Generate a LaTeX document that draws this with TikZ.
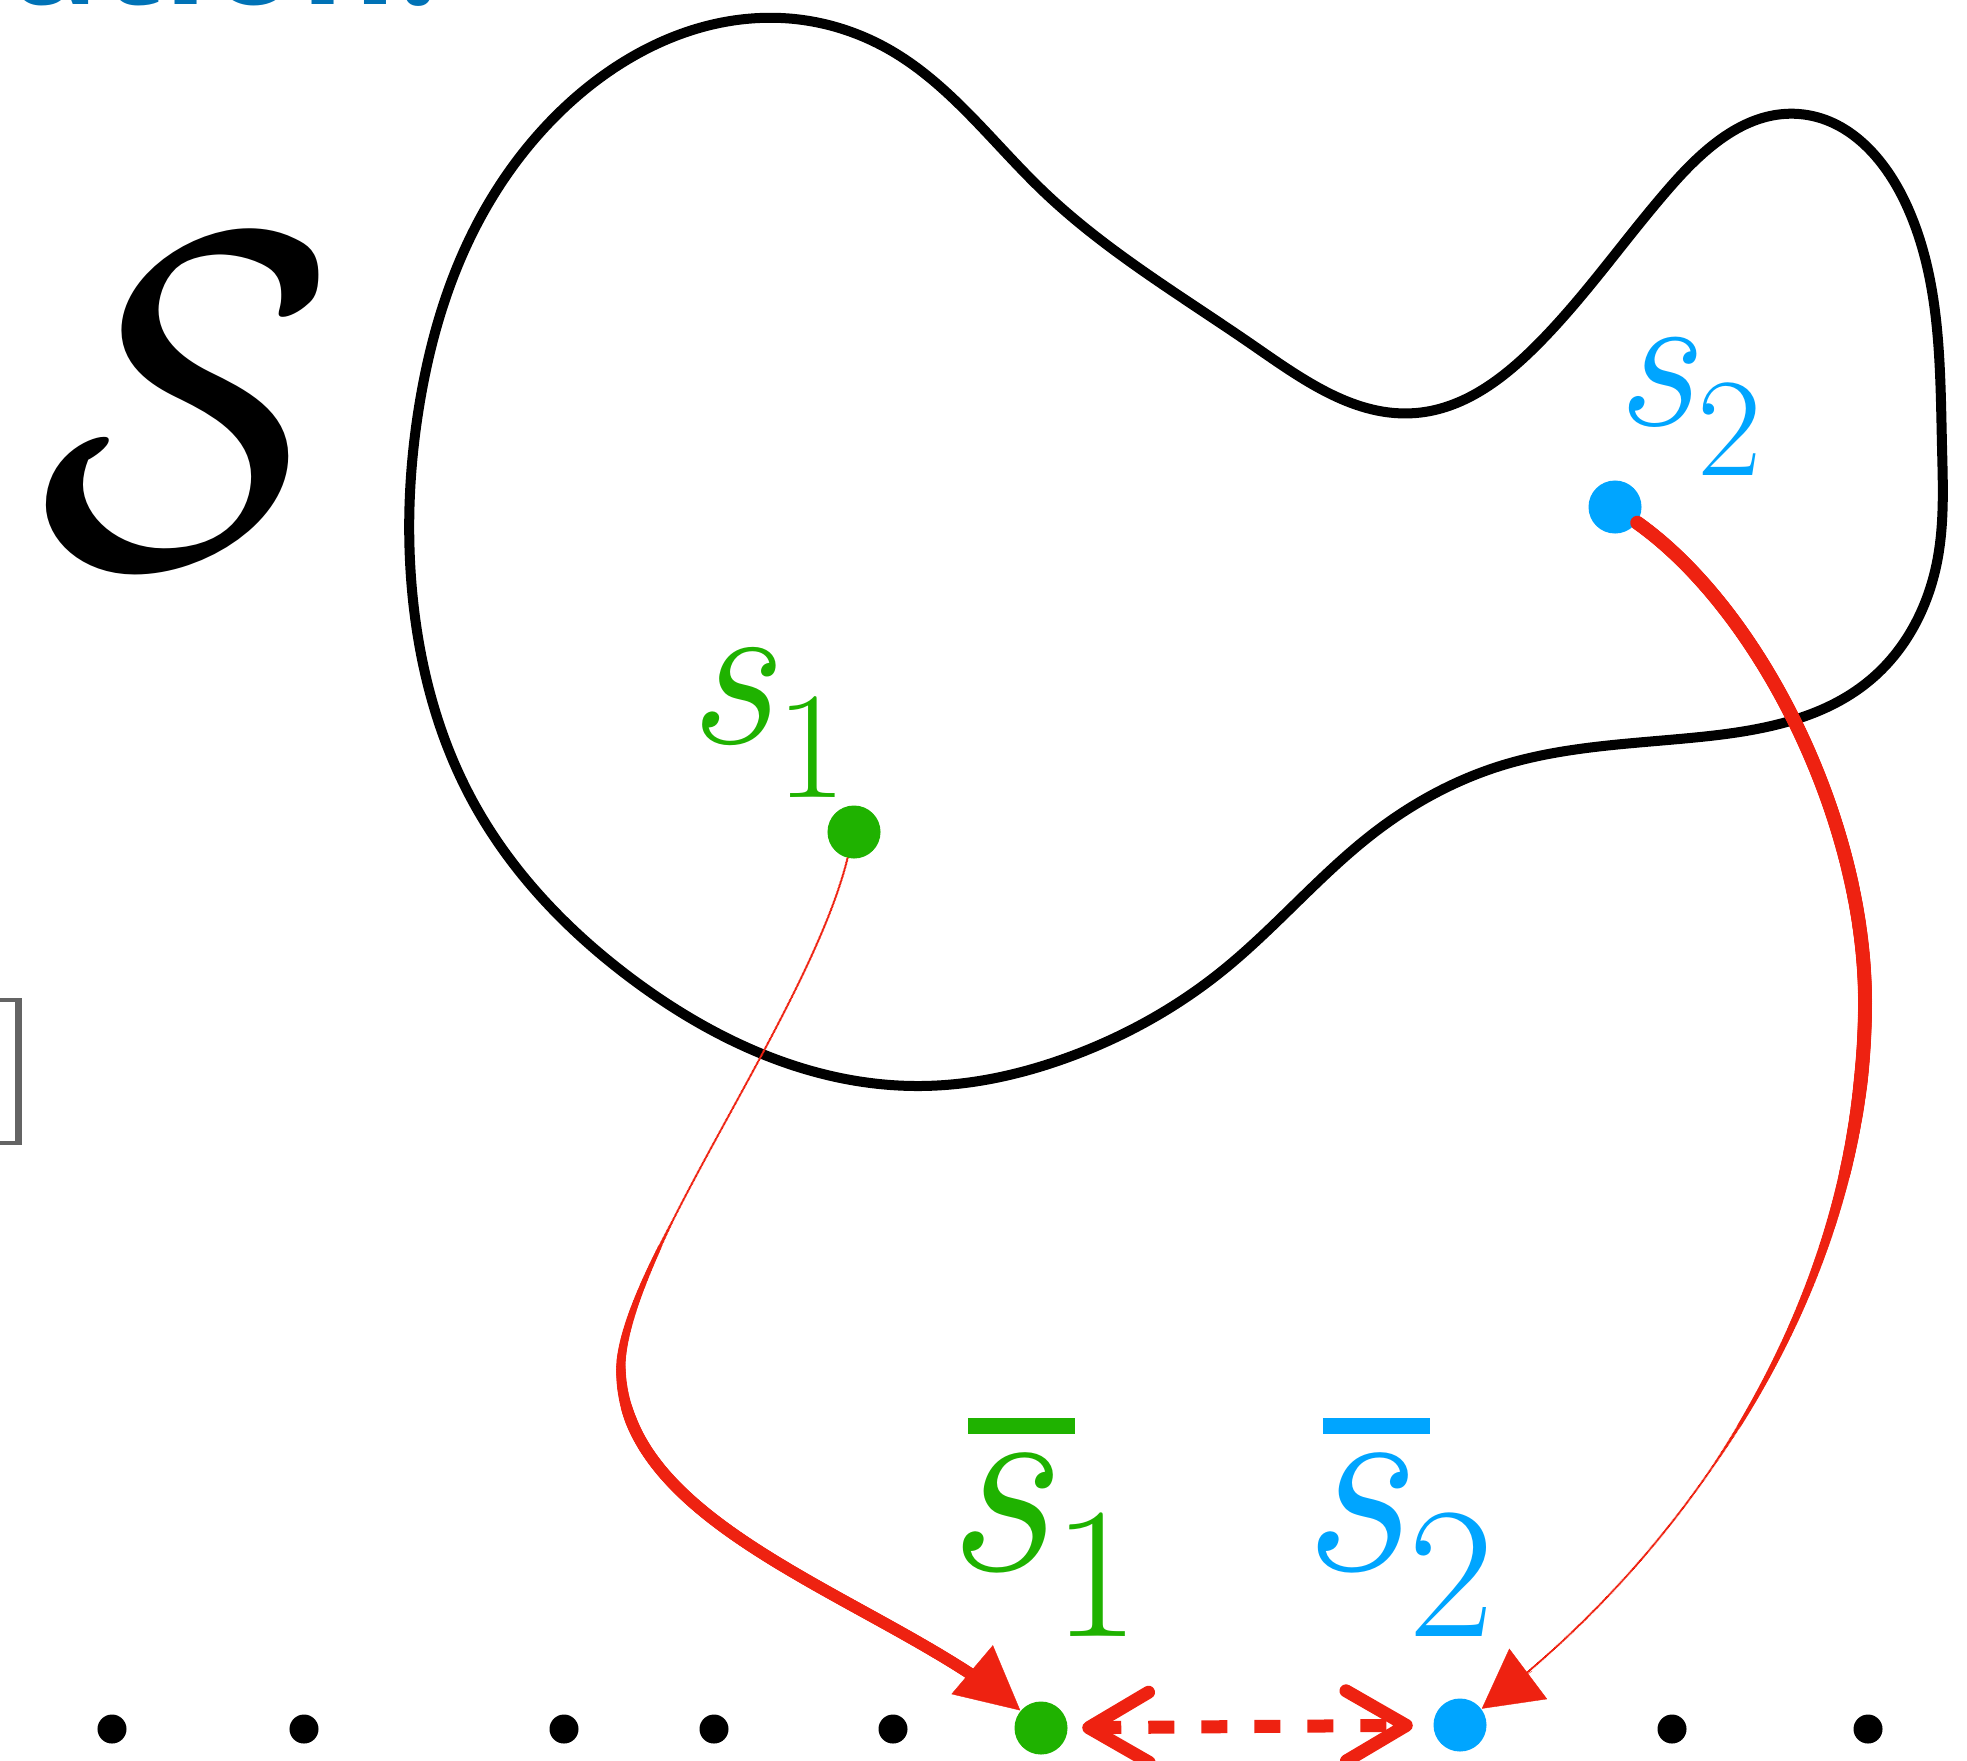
\documentclass[tikz,border=0pt]{standalone}
\usepackage{fontspec}
\newfontfamily\headfont{Open Sans}
\usepackage{graphicx}
\usetikzlibrary{arrows.meta,decorations.markings,hobby}

\definecolor{ptgreen}{RGB}{31,178,0}
\definecolor{ptblue}{RGB}{0,165,255}
\definecolor{maparrow}{RGB}{238,34,17}
\definecolor{headblue}{RGB}{0,114,182}
\definecolor{bracketgray}{RGB}{100,100,100}

% s with index, and with a bar on top
\newcommand\sname[1]{\textit{s}\raisebox{-0.25em}{\scalebox{0.7}{#1}}}
\newcommand\qname[1]{\rlap{\hspace{0.09em}\raisebox{0.51em}{\rule{0.4em}{0.06em}}}\sname{#1}}

\tikzset{
  dot/.style={circle, fill, inner sep=0pt, minimum size=2.9mm},
  pt/.style={circle, fill=#1, inner sep=0pt, minimum size=5.3mm},
  lbl/.style={inner sep=0pt, text=#1},
  maptip/.style={draw=maparrow, line width=0.1pt},
  % stroke that grows/shrinks: radius #1 -> #2 (mm) between fractions #3 and #4
  taper/.style n args={4}{postaction={decorate, decoration={markings,
      mark=between positions 0 and -5.5mm step 0.15mm with {%
        \pgfmathsetmacro\tr{#1+(#2-#1)*min(1,max(0,(\pgfkeysvalueof{/pgf/decoration/mark info/distance from start}/\pgfdecoratedpathlength-#3)/(#4-#3)))}%
        \fill[maparrow] (0,0) circle[radius=\tr mm];}}}},
}

\begin{document}
\begin{tikzpicture}[x=0.01cm, y=-0.01cm, line join=round, line cap=round]
  \useasboundingbox (0,0) rectangle (1967,1760);

  % title, cut by the top edge
  \node[anchor=base east, inner sep=0pt, text=headblue,
    font=\headfont\bfseries\fontsize{42}{48}\selectfont] (head) at (440,4) {ation:};

  % bracket at the left edge
  \draw[bracketgray, line width=0.7mm, line cap=butt] (18.5,998) -- (18.5,1144);
  \draw[bracketgray, line width=0.4mm, line cap=butt] (-5,1000) -- (22,1000) (-5,1142.5) -- (22,1142.5);

  % the set
  \node[inner sep=0pt] (setS) at (187,402) {\resizebox*{2.97cm}{3.25cm}{$\mathcal{S}$}};
  \draw[line width=1mm, use Hobby shortcut, closed=true]
    (781,18) .. (565,107) .. (470,238) .. (420,401) .. (412,590) .. (472,800)
    .. (632,979) .. (916,1086) .. (1069,1057) .. (1222,971) .. (1375,832)
    .. (1500,766) .. (1700,737) .. (1869,681) .. (1937,562) .. (1942,447)
    .. (1906,204) .. (1799,114) .. (1671,186) .. (1536,346) .. (1416,413)
    .. (1254,346) .. (1043,191) .. (890,50);

  % points of the set
  \node[pt=ptgreen] (s1) at (854,832) {};
  \node[pt=ptblue] (s2) at (1615,507) {};
  \node[lbl=ptgreen, anchor=base west, font=\fontsize{62}{66}\selectfont] (s1lbl) at (686,743) {\sname{1}};
  \node[lbl=ptblue, anchor=base west, font=\fontsize{57}{62}\selectfont] (s2lbl) at (1614,425) {\sname{2}};

  % grid
  \foreach \x [count=\i] in {112,304,564,714,893,1672,1868}
    \node[dot] (g\i) at (\x,1729) {};
  \node[pt=ptgreen] (q1) at (1041,1728) {};
  \node[pt=ptblue] (q2) at (1460,1725) {};
  \node[lbl=ptgreen, anchor=base west, font=\fontsize{76}{80}\selectfont] (q1lbl) at (943,1570) {\qname{1}};
  \node[lbl=ptblue, anchor=base west, font=\fontsize{76}{80}\selectfont] (q2lbl) at (1298,1570) {\qname{2}};

  % maps onto the grid
  \path[taper={0.13}{0.6}{0.36}{0.55}]
    (s1) .. controls (810,1010) and (630,1250) .. (621,1362)
         .. controls (615,1530) and (890,1600) .. (q1);
  \draw[maptip, -{Triangle[length=6.3mm,width=6.4mm]}, shorten <=10.5mm] (890,1600) -- (q1);
  \path[taper={0.7}{0.13}{0.45}{0.75}]
    (s2) .. controls (1760,610) and (1865,820) .. (1865,1002)
         .. controls (1865,1300) and (1680,1560) .. (q2);
  \draw[maptip, -{Triangle[length=5.8mm,width=6.3mm]}, shorten <=18.5mm] (1680,1560) -- (q2);

  % distance on the grid
  \draw[maparrow, line width=1.3mm, line cap=butt, dash pattern=on 2.6mm off 2.7mm,
    {Straight Barb[length=6mm,width=7mm,round]}-{Straight Barb[length=6mm,width=7mm,round]},
    shorten <=1.4mm, shorten >=2mm] (q1) -- (q2);
\end{tikzpicture}
\end{document}
